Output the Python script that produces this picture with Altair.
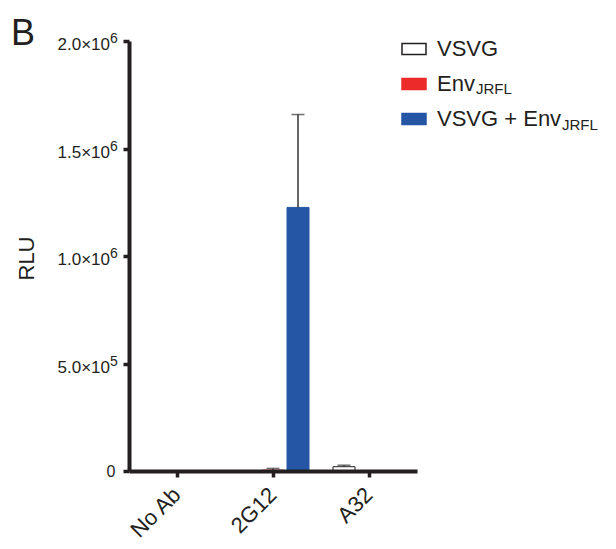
import altair as alt
import pandas as pd

# ---- data ----
groups = ["No Ab", "2G12", "A32"]
series = ["VSVG", "Env", "VSVG + Env"]
vsvg = [0, 0, 20000]
vsvg_err = [0, 0, 7000]
env = [0, 4000, 0]
env_err = [0, 8000, 0]
vsvg_env = [0, 1226000, 0]
vsvg_env_err = [0, 432000, 0]

y_ticks = [0, 500000, 1000000, 1500000, 2000000]
y_tick_mantissa = ["0", "5.0\u00d710", "1.0\u00d710", "1.5\u00d710", "2.0\u00d710"]
y_tick_exponent = ["", "5", "6", "6", "6"]
colors = ["#ffffff", "#ed2a2a", "#2456a5"]
strokes = ["#231f20", "#ed2a2a", "#2456a5"]
subscript = "JRFL"
panel_label = "B"

rows = []
for vals, errs, s in [(vsvg, vsvg_err, series[0]), (env, env_err, series[1]), (vsvg_env, vsvg_env_err, series[2])]:
    for g, v, e in zip(groups, vals, errs):
        rows.append({"group": g, "series": s, "value": v, "err": e, "top": v + e})
df = pd.DataFrame(rows)

tick_df = pd.DataFrame({"v": y_ticks, "m": y_tick_mantissa, "e": y_tick_exponent})
tick_df = tick_df[tick_df["v"] > 0]

ink = "#231f20"
font = "Liberation Sans"

x_enc = alt.X("group:N", sort=groups, title=None,
              scale=alt.Scale(paddingInner=0, paddingOuter=0),
              axis=alt.Axis(labelAngle=-45, labelFontSize=22, labelPadding=14,
                            labelAlign="right", labelBaseline="middle",
                            tickSize=6, tickWidth=3.5, domainWidth=4,
                            labelColor=ink, tickColor=ink, domainColor=ink,
                            zindex=1))
xoff = alt.XOffset("series:N", sort=series,
                   scale=alt.Scale(paddingInner=0.12, paddingOuter=0.48))
y_scale = alt.Scale(domain=[0, 2000000], nice=False)

bars = alt.Chart(df).mark_bar(strokeWidth=1).encode(
    x=x_enc,
    xOffset=xoff,
    y=alt.Y("value:Q", scale=y_scale, title="RLU",
            axis=alt.Axis(values=y_ticks, labelExpr="datum.value == 0 ? '0' : ''",
                          grid=False, labelFontSize=16, labelPadding=8, tickSize=6,
                          tickWidth=3.5, domainWidth=4, titleFontSize=22,
                          titleFontWeight="normal", titleX=-96, titleY=217,
                          titleAngle=-90, titleAlign="center",
                          titleBaseline="alphabetic",
                          labelColor=ink, tickColor=ink, domainColor=ink,
                          titleColor=ink, zindex=1)),
    fill=alt.Fill("series:N", sort=series,
                  scale=alt.Scale(domain=series, range=colors),
                  legend=alt.Legend(title=None)),
    stroke=alt.Stroke("series:N", sort=series,
                      scale=alt.Scale(domain=series, range=strokes),
                      legend=alt.Legend(title=None)),
)

err_base = alt.Chart(df).transform_filter("datum.err > 0")
err_rule = err_base.mark_rule(color="#333333", strokeWidth=1.5).encode(
    x=alt.X("group:N", sort=groups),
    xOffset=xoff,
    y=alt.Y("value:Q", scale=y_scale),
    y2="top:Q",
)
err_cap = err_base.mark_tick(color="#333333", thickness=1.5, size=13).encode(
    x=alt.X("group:N", sort=groups),
    xOffset=xoff,
    y=alt.Y("top:Q", scale=y_scale),
)

mant = alt.Chart(tick_df).mark_text(fontSize=17, align="right", baseline="alphabetic",
                                    color=ink, font=font, dy=9).encode(
    x=alt.value(-19), y=alt.Y("v:Q", scale=y_scale), text="m:N")
expo = alt.Chart(tick_df).mark_text(fontSize=14, align="left", baseline="alphabetic",
                                    color=ink, font=font, dy=2).encode(
    x=alt.value(-19), y=alt.Y("v:Q", scale=y_scale), text="e:N")

sub_df = pd.DataFrame({"t": [subscript]})
sub1 = alt.Chart(sub_df).mark_text(fontSize=15, align="left", baseline="alphabetic",
                                   color=ink, font=font).encode(
    x=alt.value(347), y=alt.value(53), text="t:N")
sub2 = alt.Chart(sub_df).mark_text(fontSize=15, align="left", baseline="alphabetic",
                                   color=ink, font=font).encode(
    x=alt.value(433), y=alt.value(89), text="t:N")

b_df = pd.DataFrame({"t": [panel_label]})
btext = alt.Chart(b_df).mark_text(fontSize=36, align="left", baseline="alphabetic",
                                  color=ink, font=font).encode(
    x=alt.value(-118), y=alt.value(4), text="t:N")

chart = alt.layer(bars, err_rule, err_cap, mant, expo, sub1, sub2, btext).properties(
    width=288, height=430,
    autosize=alt.AutoSizeParams(type="none"),
    padding={"left": 121, "top": 33, "right": 191, "bottom": 70},
).configure(font=font).configure_view(stroke=None).configure_legend(
    orient="none", legendX=272, legendY=-5, padding=0,
    symbolType="M-1,-0.46L1,-0.46L1,0.46L-1,0.46Z", symbolSize=576,
    symbolStrokeWidth=1.5, labelFontSize=22, labelColor=ink, labelFont=font,
    labelOffset=10, rowPadding=11, symbolOpacity=1,
)

chart.save("out.html", embed_options={"renderer": "svg", "actions": False})
